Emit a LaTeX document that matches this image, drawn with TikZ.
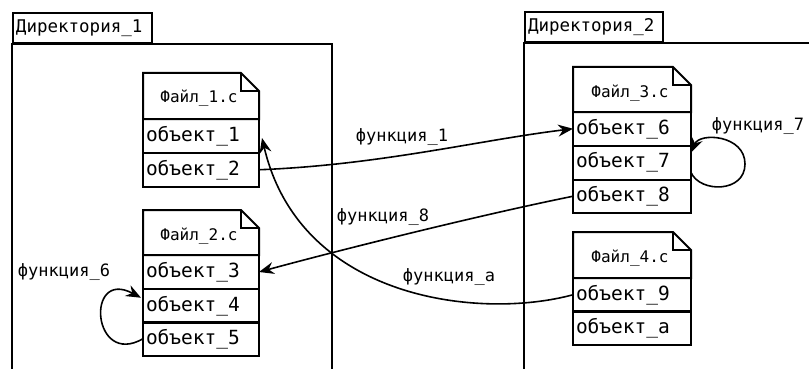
\documentclass[tikz,border=0pt]{standalone}
\usepackage{fontspec}
\setmainfont{DejaVu Sans Mono}
\usetikzlibrary{arrows.meta}
\tikzset{
  row/.style={draw, line width=2pt, anchor=north west, inner xsep=3pt, inner ysep=0pt,
    outer sep=0pt, text width=110pt, align=left, minimum height=33.5pt,
    font=\fontsize{19.5}{21}\selectfont},
  hdr/.style={inner sep=0pt, font=\fontsize{16}{18}\selectfont},
  tab/.style={draw, line width=2pt, anchor=south west, inner xsep=3pt, inner ysep=0pt,
    text width=133pt, align=left, minimum height=30pt, font=\fontsize{17.5}{19}\selectfont},
  dir/.style={line width=2.2pt},
  filebody/.style={line width=2pt},
  fold/.style={line width=1.1pt},
  lbl/.style={inner sep=0pt, font=\fontsize{17}{19}\selectfont},
  conn/.style={line width=1.6pt, -{Stealth[length=15pt,width=12pt,inset=5pt]}},
}
\begin{document}
\begin{tikzpicture}[x=1pt,y=-1pt]
\useasboundingbox (0,0) rectangle (809,369);
\clip (0,0) rectangle (809,369);
\fill[white] (0,0) rectangle (809,369);

% directories
\node[tab] (d1tab) at (12,44) {Директория\_1};
\draw[dir] (12,380) -- (12,44) -- (332,44) -- (332,380);
\node[tab, text width=132pt] (d2tab) at (524,43) {Директория\_2};
\draw[dir] (524,380) -- (524,43) -- (830,43);

% File 1
\draw[filebody] (143,73) -- (241,73) -- (259,91) -- (259,119) -- (143,119) -- cycle;
\draw[fold] (241,73) |- (259,91);
\node[hdr] (f1h) at (199,98) {Файл\_1.c};
\node[row, minimum height=34pt] (o1) at (143,119) {объект\_1};
\node[row] (o2) at (143,153) {объект\_2};

% File 2
\draw[filebody] (143,210) -- (241,210) -- (259,228) -- (259,255) -- (143,255) -- cycle;
\draw[fold] (241,210) |- (259,228);
\node[hdr] (f2h) at (199,236) {Файл\_2.c};
\node[row, minimum height=34pt] (o3) at (143,255) {объект\_3};
\node[row] (o4) at (143,289) {объект\_4};
\node[row] (o5) at (143,322) {объект\_5};

% File 3
\draw[filebody] (573,67) -- (673,67) -- (691,85) -- (691,112) -- (573,112) -- cycle;
\draw[fold] (673,67) |- (691,85);
\node[hdr] (f3h) at (630,93) {Файл\_3.c};
\node[row, text width=112pt] (o6) at (573,112) {объект\_6};
\node[row, text width=112pt, minimum height=34pt] (o7) at (573,145.5) {объект\_7};
\node[row, text width=112pt] (o8) at (573,179.5) {объект\_8};

% File 4
\draw[filebody] (573,232) -- (673,232) -- (691,250) -- (691,278) -- (573,278) -- cycle;
\draw[fold] (673,232) |- (691,250);
\node[hdr] (f4h) at (630,258) {Файл\_4.c};
\node[row, text width=112pt] (o9) at (573,278) {объект\_9};
\node[row, text width=112pt, minimum height=34pt] (oa) at (573,311) {объект\_a};

% connectors
\draw[conn] (o2.east) .. controls (380,165) and (480,140) .. (o6.west);
\draw[conn] (o8.west) .. controls (480,215) and (340,250) .. (o3.east);
\coordinate (o1in) at ([shift={(3,2)}]o1.east);
\draw[conn] (o9.west) .. controls (480,320) and (300,300) .. (o1in);
\coordinate (o4in) at ([shift={(-2,-8)}]o4.west);
\draw[conn] (o5.west) .. controls (92,368) and (85,268) .. (o4in);
\coordinate (o7out) at ([yshift=-10pt]o7.east);
\coordinate (o7r) at (745,164);
\coordinate (o6in) at ([yshift=-7pt]o6.south east);
\draw[conn] (o7out) .. controls (700,193) and (745,193) .. (o7r)
  .. controls (745,135) and (700,132) .. (o6in);

% labels
\node[lbl] (l1) at (402,137) {функция\_1};
\node[lbl] (l8) at (383,217) {функция\_8};
\node[lbl] (la) at (449,277) {функция\_a};
\node[lbl] (l6) at (64,272) {функция\_6};
\node[lbl] (l7) at (758,126) {функция\_7};
\end{tikzpicture}
\end{document}
